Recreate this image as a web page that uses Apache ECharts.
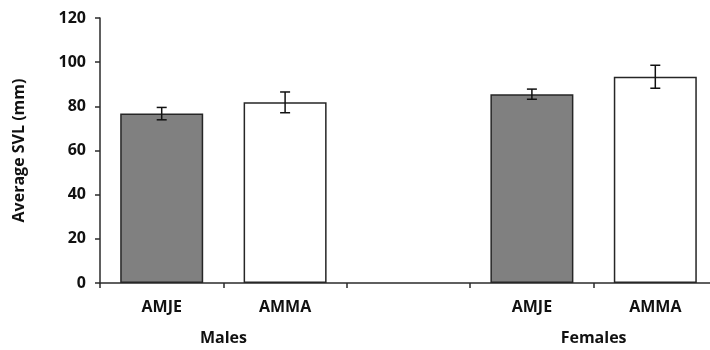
<!DOCTYPE html>
<html>
<head>
<meta charset="utf-8">
<script src="https://cdn.jsdelivr.net/npm/echarts@6/dist/echarts.min.js"></script>
<style>html,body{margin:0;padding:0;background:#fff}#c{width:710px;height:350px}</style>
</head>
<body>
<div id="c"></div>
<script>
var categories = ['AMJE', 'AMMA', '', 'AMJE', 'AMMA'];
var means = [76.7, 81.8, null, 85.5, 93.4];
var errors = [2.8, 4.7, null, 2.3, 5.2];
var groupLabels = ['Males', 'Females'];
var groupPositions = [1, 4];
var yTicks = [0, 20, 40, 60, 80, 100, 120];

var fills = ['#808080', '#ffffff', '#ffffff', '#808080', '#ffffff'];
var font = '"Open Sans", sans-serif';
var axisColor = '#2b2b2b';
var textColor = '#111';

var chart = echarts.init(document.getElementById('c'), null, {renderer: 'canvas'});
var barData = means.map(function (v, i) {
  return {value: v, itemStyle: {color: fills[i]}};
});
var errData = means.map(function (v, i) {
  return v == null ? [i, null, null] : [i, v - errors[i], v + errors[i]];
}).filter(function (d) { return d[1] != null; });

chart.setOption({
  animation: false,
  grid: {left: 100, top: 18, width: 617, height: 265, containLabel: false, outerBoundsMode: 'none'},
  xAxis: [{
    type: 'category',
    data: categories,
    axisLine: {lineStyle: {color: axisColor, width: 1.5}},
    axisTick: {show: true, length: 5, lineStyle: {color: axisColor, width: 1.5}},
    axisLabel: {fontFamily: font, fontWeight: 'bold', fontSize: 16, color: textColor, margin: 16},
    splitLine: {show: false}
  }, {
    type: 'value',
    position: 'bottom',
    offset: 32,
    min: 0, max: 5, interval: 1,
    axisLine: {show: false},
    axisTick: {show: false},
    splitLine: {show: false},
    axisLabel: {
      fontFamily: font, fontWeight: 'bold', fontSize: 16, color: textColor, margin: 15,
      showMinLabel: true, showMaxLabel: true,
      formatter: function (v) {
        var k = groupPositions.indexOf(v);
        return k >= 0 ? groupLabels[k] : '';
      }
    }
  }],
  yAxis: {
    type: 'value',
    min: 0, max: 120, interval: 20,
    name: 'Average SVL (mm)',
    nameLocation: 'middle',
    nameGap: 73,
    nameRotate: 90,
    nameTextStyle: {fontFamily: font, fontWeight: 'bold', fontSize: 16, color: textColor},
    axisLine: {show: true, lineStyle: {color: axisColor, width: 1.5}},
    axisTick: {show: true, length: 5, lineStyle: {color: axisColor, width: 1.5}},
    axisLabel: {fontFamily: font, fontWeight: 'bold', fontSize: 16, color: textColor, margin: 14,
      formatter: function (v) { return yTicks.indexOf(v) >= 0 ? String(v) : ''; }},
    splitLine: {show: false}
  },
  series: [{
    type: 'bar',
    xAxisIndex: 0,
    data: barData,
    barWidth: 83,
    itemStyle: {borderColor: '#262626', borderWidth: 1.5},
    z: 2
  }, {
    type: 'custom',
    xAxisIndex: 0,
    data: errData,
    z: 5,
    renderItem: function (params, api) {
      var x = api.value(0);
      var lo = api.coord([x, api.value(1)]);
      var hi = api.coord([x, api.value(2)]);
      var hw = 5;
      var style = {stroke: '#111', lineWidth: 1.5};
      return {
        type: 'group',
        children: [
          {type: 'line', shape: {x1: lo[0], y1: lo[1], x2: hi[0], y2: hi[1]}, style: style},
          {type: 'line', shape: {x1: lo[0] - hw, y1: lo[1], x2: lo[0] + hw, y2: lo[1]}, style: style},
          {type: 'line', shape: {x1: hi[0] - hw, y1: hi[1], x2: hi[0] + hw, y2: hi[1]}, style: style}
        ]
      };
    }
  }]
});
</script>
</body>
</html>
